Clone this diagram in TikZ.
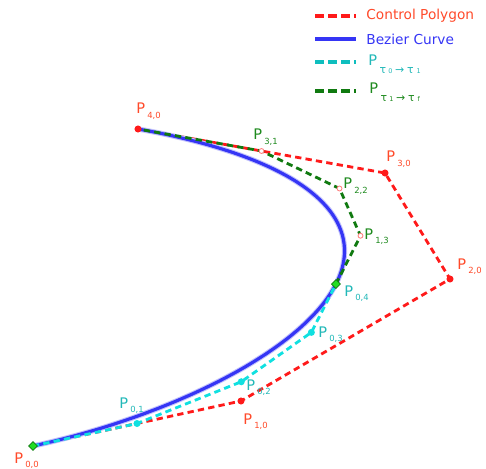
\documentclass[tikz,border=0pt]{standalone}
\usepackage{fontspec}
\setmainfont{DejaVu Sans}
\usepackage{xcolor}
\usepackage{tikz}
\usetikzlibrary{calc, shapes.geometric}
\definecolor{polyred}{HTML}{FF1A1A}
\definecolor{labred}{HTML}{FF4A2A}
\definecolor{curveblue}{HTML}{3535F5}
\definecolor{firstcyan}{HTML}{10E0E0}
\definecolor{labcyan}{HTML}{22B8B8}
\definecolor{secondgreen}{HTML}{107A10}
\definecolor{labgreen}{HTML}{1E8A1E}
\definecolor{knotgreen}{HTML}{22DD22}
\newcommand{\ptlab}[1]{{\fontsize{8.3}{9}\selectfont P}\kern1.2pt\raisebox{-2.3pt}{\fontsize{4.8}{5}\selectfont #1}}
\newcommand{\taulab}[2]{{\fontsize{8.3}{9}\selectfont P}\kern1.4pt\raisebox{-4pt}{\fontsize{6.2}{6}\selectfont
  τ\kern1.2pt{\fontsize{3.7}{4}\selectfont #1}\kern1.6pt→\kern1.6ptτ\kern1.6pt{\fontsize{3.7}{4}\selectfont #2}}}

\begin{document}
\begin{tikzpicture}[x=0.02cm, y=-0.02cm, font=\fontsize{7.8}{9}\selectfont,
   poly/.style={polyred, line width=1.6pt, dash pattern=on 3.6pt off 2.4pt},
   curve/.style={curveblue, line width=1.8pt},
   halo/.style={curveblue!30, line width=3pt},
   first/.style={firstcyan, line width=1.6pt, dash pattern=on 3.6pt off 2.4pt},
   second/.style={secondgreen, line width=1.6pt, dash pattern=on 3.6pt off 2.4pt},
   legdash/.style={line width=1.9pt, dash pattern=on 5.4pt off 2pt},
   ctrl/.style={circle, fill=polyred, inner sep=0pt, minimum size=4pt},
   mid/.style={circle, draw=polyred!55, line width=0.5pt, fill=white, inner sep=0pt, minimum size=2.8pt},
   half/.style={circle, fill=firstcyan, inner sep=0pt, minimum size=4pt},
   knot/.style={diamond, draw=secondgreen, line width=0.4pt, fill=knotgreen, inner sep=0pt, minimum size=5.2pt},
   redlab/.style={labred, anchor=base west, inner sep=0pt},
   cyanlab/.style={labcyan, anchor=base west, inner sep=0pt},
   greenlab/.style={labgreen, anchor=base west, inner sep=0pt}]
  \useasboundingbox (0,0) rectangle (486,469);
  % control points
  \coordinate (p00) at (33,446);
  \coordinate (p10) at (241,401);
  \coordinate (p20) at (450,279);
  \coordinate (p30) at (385,173);
  \coordinate (p40) at (138,129);
  % de Casteljau at t = 1/2
  \coordinate (p01) at ($(p00)!0.5!(p10)$);
  \coordinate (p11) at ($(p10)!0.5!(p20)$);
  \coordinate (p21) at ($(p20)!0.5!(p30)$);
  \coordinate (p31) at ($(p30)!0.5!(p40)$);
  \coordinate (p02) at ($(p01)!0.5!(p11)$);
  \coordinate (p12) at ($(p11)!0.5!(p21)$);
  \coordinate (p22) at ($(p21)!0.5!(p31)$);
  \coordinate (p03) at ($(p02)!0.5!(p12)$);
  \coordinate (p13) at ($(p12)!0.5!(p22)$);
  \coordinate (p04) at ($(p03)!0.5!(p13)$);
  % control polygon
  \draw[poly] (p00) -- (p10) -- (p20) -- (p30) -- (p40);
  % quartic curve
  \foreach \sty in {halo, curve}
    \draw[\sty] plot[domain=0:1, samples=90, smooth]
      ({33*(1-\x)^4 + 964*\x*(1-\x)^3 + 2700*\x^2*(1-\x)^2 + 1540*\x^3*(1-\x) + 138*\x^4},
       {446*(1-\x)^4 + 1604*\x*(1-\x)^3 + 1674*\x^2*(1-\x)^2 + 692*\x^3*(1-\x) + 129*\x^4});
  % the two halves
  \draw[first] (p00) -- (p01) -- (p02) -- (p03) -- (p04);
  \draw[second] (p04) -- (p13) -- (p22) -- (p31) -- (p40);
  % markers
  \foreach \p in {p10, p20, p30, p40} \node[ctrl] at (\p) {};
  \foreach \p in {p31, p22, p13} \node[mid] at (\p) {};
  \foreach \p in {p01, p02, p03} \node[half] at (\p) {};
  \node[knot] (k0) at (p00) {};
  \node[knot] (k4) at (p04) {};
  % labels
  \node[redlab] (l00) at (14,463) {\ptlab{0,0}};
  \node[redlab] (l10) at (243,424) {\ptlab{1,0}};
  \node[redlab] (l20) at (457,269) {\ptlab{2,0}};
  \node[redlab] (l30) at (386,162) {\ptlab{3,0}};
  \node[redlab] (l40) at (136,114) {\ptlab{4,0}};
  \node[greenlab] (l31) at (253,140) {\ptlab{3,1}};
  \node[greenlab] (l22) at (343,189) {\ptlab{2,2}};
  \node[greenlab] (l13) at (364,239) {\ptlab{1,3}};
  \node[cyanlab] (l04) at (344,296) {\ptlab{0,4}};
  \node[cyanlab] (l03) at (318,337) {\ptlab{0,3}};
  \node[cyanlab] (l02) at (246,390) {\ptlab{0,2}};
  \node[cyanlab] (l01) at (119,408) {\ptlab{0,1}};
  % legend
  \draw[legdash, polyred] (315,16) -- (356,16);
  \draw[curveblue, line width=2.4pt] (315,39) -- (356,39);
  \draw[legdash, firstcyan!85!black] (315,62) -- (356,62);
  \draw[legdash, secondgreen] (315,91) -- (356,91);
  \node[labred, anchor=west, inner sep=0pt] (g1) at (366,16) {Control Polygon};
  \node[curveblue, anchor=west, inner sep=0pt] (g2) at (366,39) {Bezier Curve};
  \node[cyanlab] (g3) at (368,66) {\taulab{0}{1}};
  \node[greenlab] (g4) at (369,94) {\taulab{1}{f}};
\end{tikzpicture}
\end{document}
